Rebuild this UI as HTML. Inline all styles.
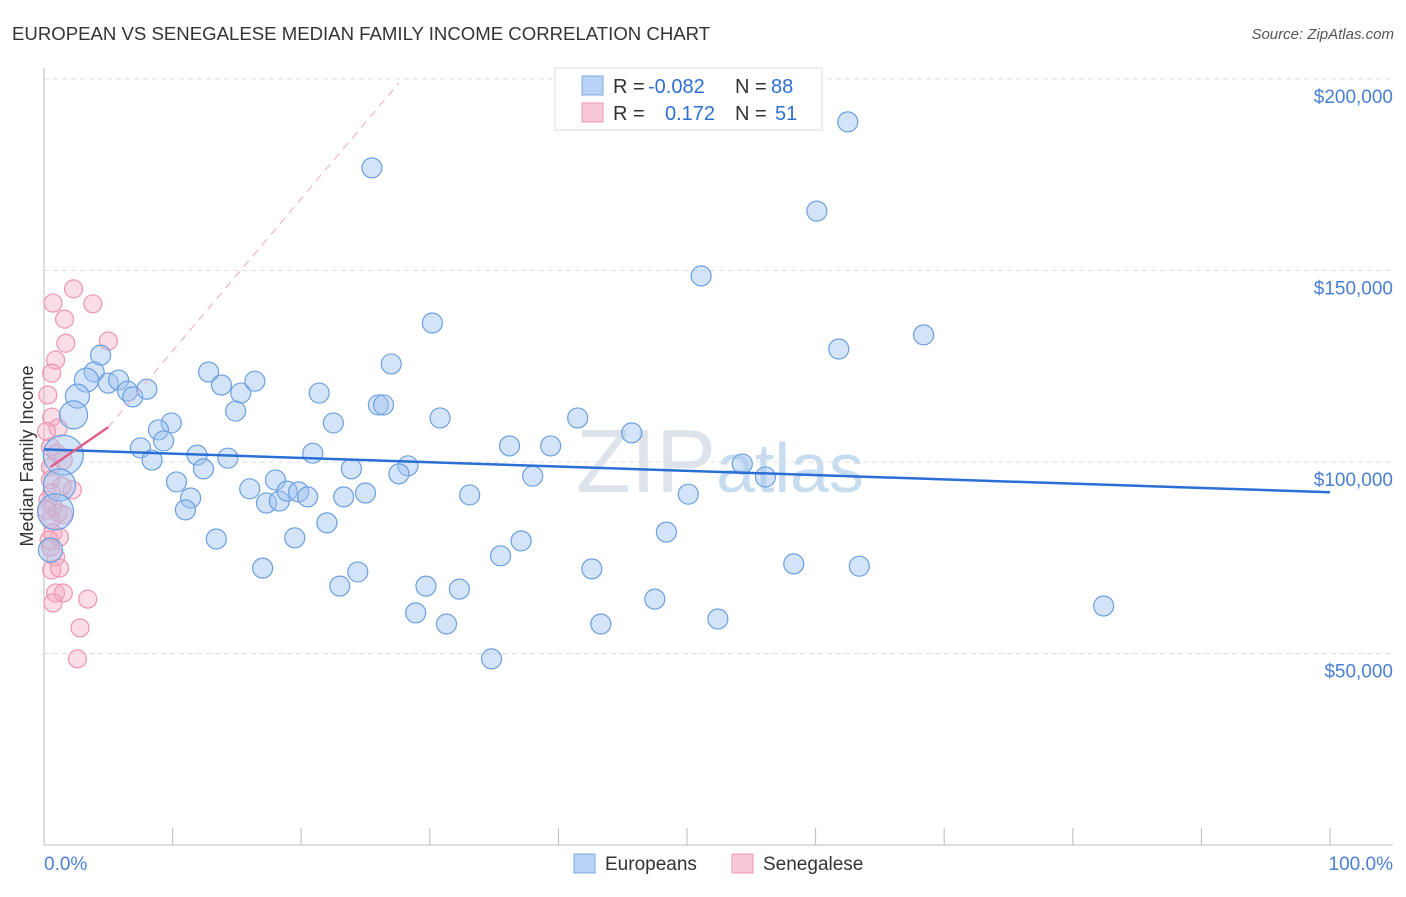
<!DOCTYPE html>
<html><head><meta charset="utf-8"><style>
body{margin:0;background:#fff;font-family:"Liberation Sans",sans-serif}
svg text{font-family:"Liberation Sans",sans-serif}
</style></head><body>
<svg id="c" width="1406" height="892">
<text x="12" y="40" font-size="18.6" fill="#333">EUROPEAN VS SENEGALESE MEDIAN FAMILY INCOME CORRELATION CHART</text>
<text x="1394" y="39" font-size="15" fill="#555" text-anchor="end" font-style="italic">Source: ZipAtlas.com</text>
<text x="33" y="456" font-size="18" fill="#333" text-anchor="middle" transform="rotate(-90 33 456)">Median Family Income</text>
<text x="720" y="492" font-size="90" fill="#dde3ea" text-anchor="middle" font-family="Liberation Serif">ZIP<tspan fill="#c8dcf0" font-family="Liberation Sans" font-size="70">atlas</tspan></text>
<g id="grid"></g><g id="pts"></g><g id="lines"></g>
<g>
<rect x="555" y="68" width="267" height="62" fill="#fff" stroke="#ddd"/>
<rect x="582" y="76" width="21" height="19" fill="#b8d3f5" stroke="#7fa8e0"/>
<rect x="582" y="103" width="21" height="19" fill="#f9c8d6" stroke="#ee9ab4"/>
<text x="613" y="93" font-size="20" fill="#333">R = <tspan fill="#2f6fd0" x="648">-0.082</tspan></text>
<text x="735" y="93" font-size="20" fill="#333">N = <tspan fill="#2f6fd0" x="771">88</tspan></text>
<text x="613" y="120" font-size="20" fill="#333">R = <tspan fill="#2f6fd0" x="665">0.172</tspan></text>
<text x="735" y="120" font-size="20" fill="#333">N = <tspan fill="#2f6fd0" x="775">51</tspan></text>
</g>
<g>
<rect x="574" y="854" width="21" height="19" fill="#b8d3f5" stroke="#7fa8e0"/>
<text x="605" y="870" font-size="19" fill="#333">Europeans</text>
<rect x="732" y="854" width="21" height="19" fill="#f9c8d6" stroke="#ee9ab4"/>
<text x="763" y="870" font-size="19" fill="#333">Senegalese</text>
</g>
<text x="44" y="870" font-size="19" fill="#4a7fd4">0.0%</text>
<text x="1393" y="870" font-size="19" fill="#4a7fd4" text-anchor="end">100.0%</text>
</svg>
<script>
const yTicks=[50000,100000,150000,200000];
const yTickLabels=["$50,000","$100,000","$150,000","$200,000"];
const euroX=[62.5,25.5,60.1,51.1,30.2,61.8,68.4,27,4.4,3.9,3.3,5,5.8,6.5,6.9,8,12.8,13.8,15.3,16.4,14.9,21.4,26,26.4,22.5,30.8,41.5,45.7,9.9,8.9,9.3,7.5,8.4,2.6,2.3,1.5,1.2,0.9,0.5,11.9,14.3,20.9,23.9,28.3,27.6,36.2,39.4,38,54.3,56.1,10.3,12.4,16,18,17.3,18.3,18.9,19.8,20.5,23.3,25,33.1,50.1,11.4,11,22,13.4,19.5,37.1,48.4,17,24.4,23,35.5,42.6,58.3,63.4,29.7,32.3,28.9,47.5,31.3,43.3,52.4,82.4,34.8];
const euroY=[188.8,176.8,165.5,148.6,136.3,129.5,133.2,125.6,127.9,123.5,121.4,120.6,121.4,118.5,117,119,123.5,120.1,118,121.1,113.3,118,114.9,114.9,110.2,111.5,111.5,107.6,110.2,108.4,105.5,103.7,100.5,117.2,112.3,101.8,94,87,77,101.8,101,102.3,98.2,99,96.9,104.2,104.2,96.3,99.5,96.1,94.8,98.2,93,95.3,89.3,89.8,92.4,92.2,90.9,90.9,91.9,91.4,91.6,90.6,87.5,84.1,79.9,80.2,79.4,81.7,72.3,71.3,67.6,75.5,72.1,73.4,72.8,67.6,66.8,60.6,64.2,57.7,57.7,59,62.4,48.6];
const euroR=[10,10,10,10,10,10,10,10,10,10,12,10,10,10,10,10,10,10,10,10,10,10,10,10,10,10,10,10,10,10,10,10,10,12,14,20,16,18,12,10,10,10,10,10,10,10,10,10,10,10,10,10,10,10,10,10,10,10,10,10,10,10,10,10,10,10,10,10,10,10,10,10,10,10,10,10,10,10,10,10,10,10,10,10,10,10];
const senX=[2.3,0.7,3.8,1.6,1.7,5,0.9,0.6,0.6,1.1,0.5,1,1.5,0.5,2.2,0.5,0.6,0.7,1.1,1.5,0.5,0.7,1.2,0.5,0.9,0.6,1.2,0.9,1.5,3.4,0.7,2.8,2.6,0.3,0.2,0.4,0.2,0.3,1.4];
const senY=[145.2,141.5,141.3,137.3,131,131.6,126.6,123.2,111.7,108.9,103.9,102.3,100.5,98.7,92.7,95.3,91.9,88.3,86.7,86.2,84.9,81.5,80.4,77.8,75.2,71.8,72.3,65.8,65.8,64.2,63.2,56.7,48.6,90,87.5,79.6,108,117.5,93.7];
const euroTrend=[[0,103.3],[100,92.1]];
const senTrend=[[0.5,98.7],[5,109.1]];
const senTrendExt=[[5,109.1],[27.6,199]];
const X=v=>44+v*12.86, Y=k=>845-k*3.83;
const NS="http://www.w3.org/2000/svg";
function mk(t,a,p){const e=document.createElementNS(NS,t);for(const k in a)e.setAttribute(k,a[k]);p.appendChild(e);return e;}
const grid=document.getElementById('grid');
yTicks.forEach((v,i)=>{const y=Y(v/1000);
const l=mk('line',{x1:44,x2:1393,y1:y,y2:y,stroke:'#ddd','stroke-dasharray':'5,4'},grid);


const t=mk('text',{x:1393,y:y+24,'font-size':19,fill:'#4a7fd4','text-anchor':'end'},grid);t.textContent=yTickLabels[i];

});
mk('line',{x1:44,x2:44,y1:68,y2:845,stroke:'#bbb'},grid);
mk('line',{x1:44,x2:1393,y1:845,y2:845,stroke:'#bbb'},grid);
for(let i=0;i<=10;i++){const t=mk('line',{x1:X(i*10),x2:X(i*10),y1:828,y2:845,stroke:'#bbb'},grid);

}
const pts=document.getElementById('pts');
senX.forEach((x,i)=>{const c=mk('circle',{cx:X(x),cy:Y(senY[i]),r:9,fill:'rgba(245,170,195,0.4)',stroke:'#ee94b1','stroke-width':1.2},pts);

});
euroX.forEach((x,i)=>{const c=mk('circle',{cx:X(x),cy:Y(euroY[i]),r:euroR[i],fill:'rgba(160,196,240,0.45)',stroke:'#6a9fe0','stroke-width':1.2},pts);

});
const lines=document.getElementById('lines');
function ln(p,st,w,d,n){const l=mk('line',{x1:X(p[0][0]),y1:Y(p[0][1]),x2:X(p[1][0]),y2:Y(p[1][1]),stroke:st,'stroke-width':w},lines);if(d)l.setAttribute('stroke-dasharray',d);

}
ln(euroTrend,'#2a6fd6',2.5,null,'european-trend-line');
ln(senTrend,'#e0608a',2.5,null,'senegalese-trend-line');
ln(senTrendExt,'#eeaac0',1,'8,6','senegalese-trend-extension');
</script>
</body></html>
